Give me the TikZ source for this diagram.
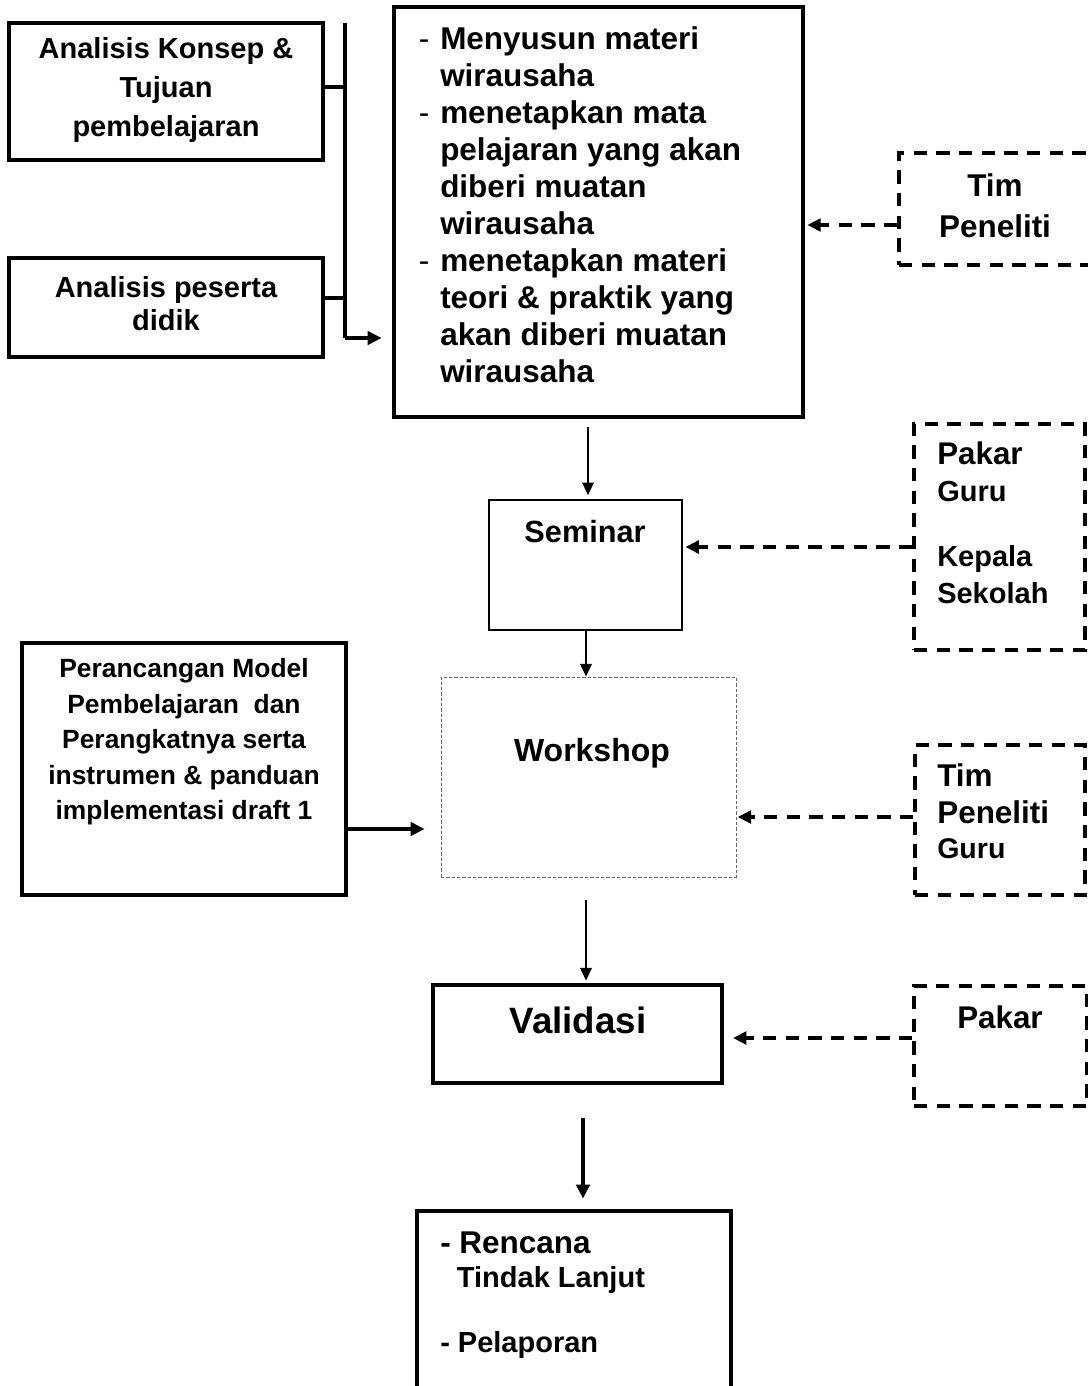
\documentclass[tikz,border=0pt]{standalone}
\usepackage{fontspec}
\setmainfont{Liberation Sans}
\usetikzlibrary{arrows.meta}
\newcommand\mkdash{\makebox[16pt][l]{\mdseries -}}
\newcommand\mkind{\hspace*{16pt}}
\begin{document}
\begin{tikzpicture}[x=0.75pt,y=-0.75pt,
  solidbox/.style={draw, line width=2.6pt, inner sep=0pt},
  thinbox/.style={draw, line width=1.2pt, inner sep=0pt},
  dashbox/.style={draw, line width=2.6pt, dash pattern=on 10pt off 7pt, inner sep=0pt},
  lightbox/.style={draw=black!60, line width=0.6pt, dash pattern=on 2.5pt off 1.5pt, inner sep=0pt},
  flow/.style={line width=2.6pt, -{Triangle[length=10.5pt,width=10pt]}},
  thinflow/.style={line width=1.7pt, -{Triangle[length=9.5pt,width=8.5pt]}},
  feed/.style={line width=2.6pt, dash pattern=on 10pt off 7pt, -{Triangle[length=10pt,width=9.5pt]}},
  txt/.style={inner sep=0pt, align=center},
  fsA/.style={font=\fontsize{21.75}{29.25}\selectfont\bfseries},
  fsB/.style={font=\fontsize{21.75}{24.75}\selectfont\bfseries},
  fsM/.style={font=\fontsize{23.6}{27.75}\selectfont\bfseries},
  fsP/.style={font=\fontsize{19.8}{26.6}\selectfont\bfseries}]
\useasboundingbox (0,0) rectangle (1088,1386);
\clip (0,0) rectangle (1088,1386);

% boxes
\node[solidbox, minimum width=235.5pt, minimum height=102.75pt] (konsep) at (166,91.5) {};
\node[solidbox, minimum width=235.5pt, minimum height=74.25pt] (peserta) at (166,307.5) {};
\node[solidbox, minimum width=306.75pt, minimum height=307.5pt] (materi) at (598.5,212) {};
\node[dashbox, minimum width=147pt, minimum height=84pt] (tim) at (997,209) {};
\node[thinbox, minimum width=144.75pt, minimum height=97.5pt] (seminar) at (585.5,565) {};
\node[dashbox, minimum width=128.25pt, minimum height=169.5pt] (pakarguru) at (999.5,537) {};
\node[solidbox, minimum width=243pt, minimum height=189pt] (rancang) at (184,769) {};
\node[lightbox, minimum width=221.25pt, minimum height=150pt] (workshop) at (588.5,777) {};
\node[dashbox, minimum width=127.5pt, minimum height=112.5pt] (timguru) at (1000,820) {};
\node[solidbox, minimum width=216.75pt, minimum height=73.5pt] (validasi) at (577.5,1034) {};
\node[dashbox, minimum width=129.75pt, minimum height=90pt] (pakar) at (1000.5,1046) {};
\node[solidbox, minimum width=235.5pt, minimum height=141pt] (lanjut) at (574,1305) {};

% texts
\node[txt, fsA] (konsepT) at (166,90) {Analisis Konsep \&\\Tujuan\\pembelajaran};
\node[txt, fsB] (pesertaT) at (166,304) {Analisis peserta\\didik};
\node[txt, fsM, align=left] (materiT) at (580,205) {%
\mkdash Menyusun materi\\ \mkind wirausaha\\
\mkdash menetapkan mata\\ \mkind pelajaran yang akan\\ \mkind diberi muatan\\ \mkind wirausaha\\
\mkdash menetapkan materi\\ \mkind teori \& praktik yang\\ \mkind akan diberi muatan\\ \mkind wirausaha};
\node[txt, font=\fontsize{23.6}{30.75}\selectfont\bfseries] (timT) at (995,206) {Tim\\Peneliti};
\node[txt, font=\fontsize{23}{27}\selectfont\bfseries] (seminarT) at (585,532) {Seminar};
\node[txt, align=left, anchor=west, font=\fontsize{21.75}{27.75}\selectfont\bfseries] (pakarguruT) at (937,523)
  {{\fontsize{23.5}{27.75}\selectfont Pakar}\\Guru\\[21pt]Kepala\\Sekolah};
\node[txt, fsP] (rancangT) at (184,742) {Perancangan Model\\Pembelajaran\ \ dan\\Perangkatnya serta\\instrumen \& panduan\\implementasi draft 1};
\node[txt, font=\fontsize{24}{28}\selectfont\bfseries] (workshopT) at (592,753) {Workshop};
\node[txt, align=left, anchor=west, font=\fontsize{23.6}{27.75}\selectfont\bfseries] (timguruT) at (937,811)
  {Tim\\Peneliti\\[-1.5pt]{\fontsize{21.4}{26}\selectfont Guru}};
\node[txt, font=\fontsize{27.5}{32}\selectfont\bfseries] (validasiT) at (578,1020) {Validasi};
\node[txt, font=\fontsize{23.5}{28}\selectfont\bfseries] (pakarT) at (1000,1017) {Pakar};
\node[txt, align=left, anchor=west, font=\fontsize{21.75}{25.5}\selectfont\bfseries] (lanjutT) at (440,1295)
  {{\fontsize{23.6}{25.5}\selectfont - Rencana}\\\hspace*{12.5pt}Tindak Lanjut\\[23pt]- Pelaporan};

% joining bar on the left
\coordinate (barTop) at (345,23);
\coordinate (barBot) at (345,338);
\draw[line width=2.6pt] (barTop) -- (barBot);
\draw[line width=2.6pt] (konsep.east |- 0,87) -- (barTop |- 0,87);
\draw[line width=2.6pt] (peserta.east |- 0,298) -- (barTop |- 0,298);
\draw[flow, shorten >=8pt] (barBot) -- (materi.west |- barBot);

% main flow
\draw[thinflow, shorten <=6pt, shorten >=3pt] (materi.south -| 588,0) -- (seminar.north -| 588,0);
\draw[thinflow] (seminar.south -| 586,0) -- (workshop.north -| 586,0);
\draw[thinflow, shorten <=17pt, shorten >=2pt] (workshop.south -| 586,0) -- (validasi.north -| 586,0);
\draw[flow, shorten <=25pt, shorten >=8pt] (validasi.south -| 583,0) -- (lanjut.north -| 583,0);
\draw[flow, shorten >=12pt] (rancang.east |- 0,829) -- (workshop.west |- 0,829);

% contributors
\draw[feed, shorten >=2pt] (tim.west |- 0,225) -- (materi.east |- 0,225);
\draw[feed, shorten >=2pt] (pakarguru.west |- 0,547) -- (seminar.east |- 0,547);
\draw[feed, shorten >=1pt] (timguru.west |- 0,817) -- (workshop.east |- 0,817);
\draw[feed, shorten >=7pt] (pakar.west |- 0,1038) -- (validasi.east |- 0,1038);
\end{tikzpicture}
\end{document}
